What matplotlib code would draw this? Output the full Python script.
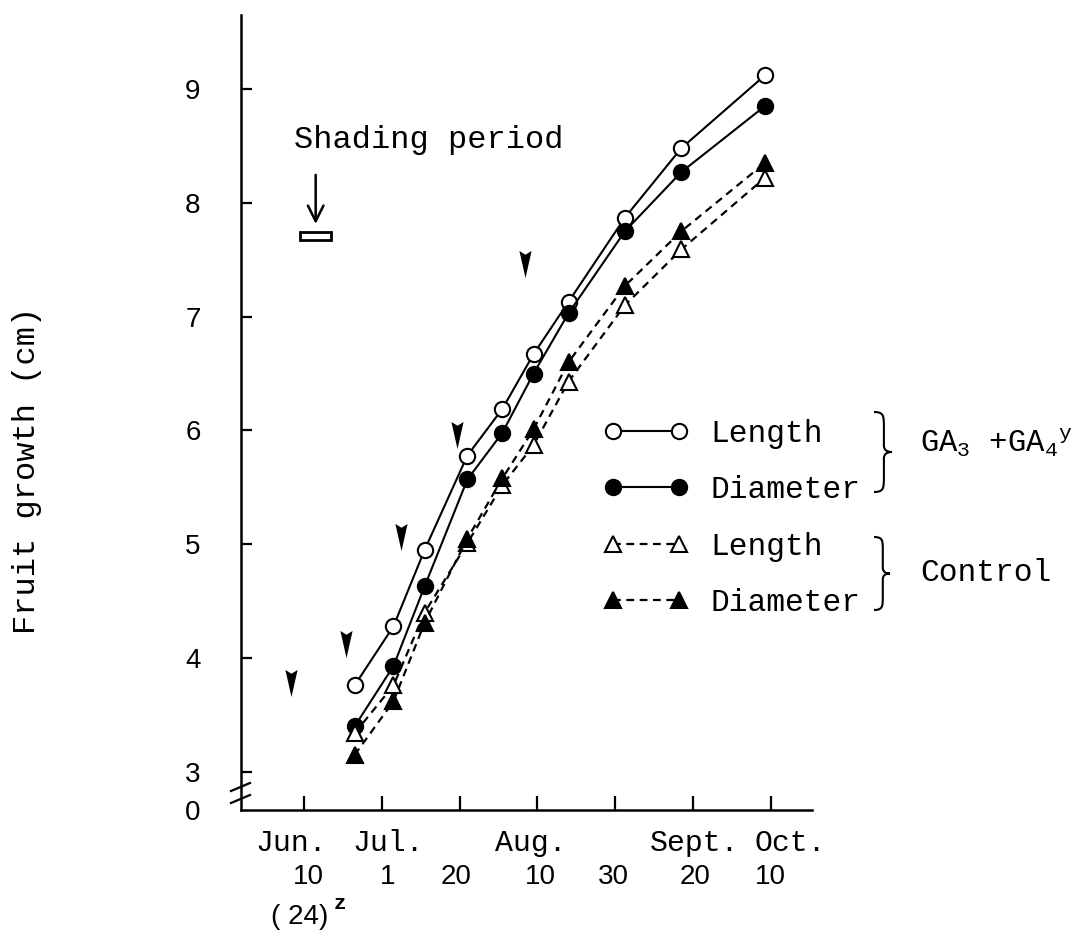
import matplotlib
matplotlib.use("Agg")
import matplotlib.pyplot as plt
from matplotlib.path import Path
from matplotlib.patches import PathPatch, Rectangle
from matplotlib.transforms import Affine2D
from matplotlib.lines import Line2D

W, H = 1072, 947
MONO = "Liberation Mono"
SANS = "Liberation Sans"

plt.rcParams["mathtext.fontset"] = "custom"
plt.rcParams["mathtext.rm"] = MONO
plt.rcParams["mathtext.it"] = MONO

# sampling dates as days after June 10 (axis ticks every 20 days)
days = [13, 23, 31, 42, 51, 59, 68, 82.5, 97, 118.5]
ga_length = [3.76, 4.28, 4.95, 5.78, 6.19, 6.67, 7.13, 7.87, 8.48, 9.12]
ga_diameter = [3.40, 3.93, 4.63, 5.57, 5.98, 6.50, 7.03, 7.75, 8.27, 8.85]
ctrl_length = [3.34, 3.76, 4.40, 5.01, 5.52, 5.87, 6.43, 7.10, 7.59, 8.22]
ctrl_diameter = [3.15, 3.62, 4.31, 5.05, 5.58, 6.01, 6.60, 7.27, 7.75, 8.35]

# application dates (arrowheads)
spray_days = [-3.3, 10.8, 24.9, 39.3, 56.8]
spray_level = [3.78, 4.12, 5.06, 5.96, 7.46]

# shading period bar
shade_start, shade_end, shade_level = -1.0, 7.0, 7.71

tick_days = [0, 20, 40, 60, 80, 100, 120]
day_labels = ["10", "1", "20", "10", "30", "20", "10"]
day_label_shift = [1, 1.5, -1, 0.8, -0.5, 0.5, 0]
months = ["Jun.", "Jul.", "Aug.", "Sept.", "Oct."]
month_pos = [-3.3, 21.6, 58.4, 100.3, 125.0]
y_ticks = [3, 4, 5, 6, 7, 8, 9]

X_MIN, X_MAX = -16.2, 130.6
Y_MIN, Y_MAX = 2.666, 9.65


def fx(px):
    return px / W


def fy(py):
    return 1 - py / H


fig = plt.figure(figsize=(W / 100, H / 100), dpi=100)
ax = fig.add_axes([fx(241), fy(810), (812 - 241) / W, (810 - 15) / H])
ax.set_xlim(X_MIN, X_MAX)
ax.set_ylim(Y_MIN, Y_MAX)

for s in ("top", "right"):
    ax.spines[s].set_visible(False)
for s in ("left", "bottom"):
    ax.spines[s].set_linewidth(1.8)

ax.set_yticks([Y_MIN] + y_ticks)
ax.set_yticklabels(["0"] + [str(v) for v in y_ticks], fontfamily=SANS, fontsize=20)
ax.tick_params(axis="y", direction="in", length=8, width=1.6, pad=29)
ax.yaxis.get_major_ticks()[0].tick1line.set_visible(False)

# day numbers under the ticks, months on the row above
ax.set_xticks(tick_days)
ax.set_xticklabels([])
ax.tick_params(axis="x", direction="in", length=10, width=1.6)
xt = ax.get_xaxis_transform()
lab_y = -(877 - 810) / (810 - 15)
for d, lab, sh in zip(tick_days, day_labels, day_label_shift):
    ax.text(d + sh, lab_y, lab, transform=xt, ha="center", va="center",
            fontfamily=SANS, fontsize=20, clip_on=False)

mon_y = -(851 - 810) / (810 - 15)
for name, pos in zip(months, month_pos):
    ax.text(pos, mon_y, name, transform=xt, ha="center", va="baseline",
            fontfamily=MONO, fontsize=21.5, clip_on=False)

fig.text(fx(300), fy(917), "( 24)", ha="center", va="center", fontfamily=SANS, fontsize=20)
fig.text(fx(340), fy(903), "z", ha="center", va="center", fontfamily=MONO,
         fontsize=15, fontweight="bold")

fig.text(fx(27), fy(470), "Fruit growth (cm)", rotation=90, ha="center", va="center",
         fontfamily=MONO, fontsize=23)

# axis break marks on the y axis
for yb in (787, 799):
    fig.add_artist(Line2D([fx(231), fx(250)], [fy(yb + 4), fy(yb - 4)], color="k", lw=1.6))

# growth curves
h1, = ax.plot(days, ga_length, "-", color="k", lw=1.5, marker="o", ms=11,
              mfc="white", mec="k", mew=1.5, label="Length", zorder=3)
h2, = ax.plot(days, ga_diameter, "-", color="k", lw=1.5, marker="o", ms=11,
              mfc="k", mec="k", mew=1.5, label="Diameter", zorder=3)
h3, = ax.plot(days, ctrl_length, color="k", lw=1.6, ls=(0, (3.5, 2.5)), marker="^",
              ms=11, mfc="white", mec="k", mew=1.5, label="Length", zorder=3)
h4, = ax.plot(days, ctrl_diameter, color="k", lw=1.6, ls=(0, (3.5, 2.5)), marker="^",
              ms=11, mfc="k", mec="k", mew=1.5, label="Diameter", zorder=3)

# arrowhead markers for application dates
wedge = Path([(-0.45, 1.0), (0.0, 0.72), (0.45, 1.0), (0.0, -1.0), (-0.45, 1.0)],
             [Path.MOVETO, Path.LINETO, Path.LINETO, Path.LINETO, Path.CLOSEPOLY])
ax.plot(spray_days, spray_level, ls="none", marker=wedge, ms=19.5, color="k", mew=0)

# shading period
ax.add_patch(Rectangle((shade_start, shade_level - 0.035), shade_end - shade_start, 0.07,
                       fill=False, lw=2, ec="k"))
ax.annotate("", xy=(3.0, 7.79), xytext=(3.0, 8.27),
            arrowprops=dict(arrowstyle="->", lw=1.8, mutation_scale=28, color="k"))
ax.text(32.1, 8.55, "Shading period", ha="center", va="center", fontfamily=MONO, fontsize=23)

leg = fig.legend(handles=[h1, h2, h3, h4], loc="upper left",
                 bbox_to_anchor=(fx(604), fy(419)), bbox_transform=fig.transFigure,
                 frameon=False, numpoints=2, handlelength=2.69, handletextpad=0.72,
                 labelspacing=0.84, borderpad=0, borderaxespad=0,
                 prop={"family": MONO, "size": 22.5})


def brace(x, y_top, y_bot, w):
    verts = [(0, 1), (0.55, 1), (0.55, 0.9), (0.55, 0.62),
             (0.55, 0.16),
             (0.55, 0.04), (0.75, 0), (1, 0),
             (0.75, 0), (0.55, -0.04), (0.55, -0.16),
             (0.55, -0.62),
             (0.55, -0.9), (0.55, -1), (0, -1)]
    codes = [Path.MOVETO, Path.CURVE4, Path.CURVE4, Path.CURVE4,
             Path.LINETO,
             Path.CURVE4, Path.CURVE4, Path.CURVE4,
             Path.CURVE4, Path.CURVE4, Path.CURVE4,
             Path.LINETO,
             Path.CURVE4, Path.CURVE4, Path.CURVE4]
    half = (y_bot - y_top) / 2
    tr = Affine2D().scale(w / W, half / H).translate(fx(x), fy(y_top + half)) + fig.transFigure
    fig.add_artist(PathPatch(Path(verts, codes), fill=False, lw=1.5, ec="k", transform=tr))


brace(874, 412, 492, 18)
brace(874, 537, 610, 16)
fig.text(fx(920), fy(443), r"GA$_3$ +GA$_4$$^{y}$", ha="left", va="center",
         fontfamily=MONO, fontsize=22)
fig.text(fx(920), fy(573), "Control", ha="left", va="center", fontfamily=MONO, fontsize=22.5)

fig.savefig("out.png", dpi=100, facecolor="white")
